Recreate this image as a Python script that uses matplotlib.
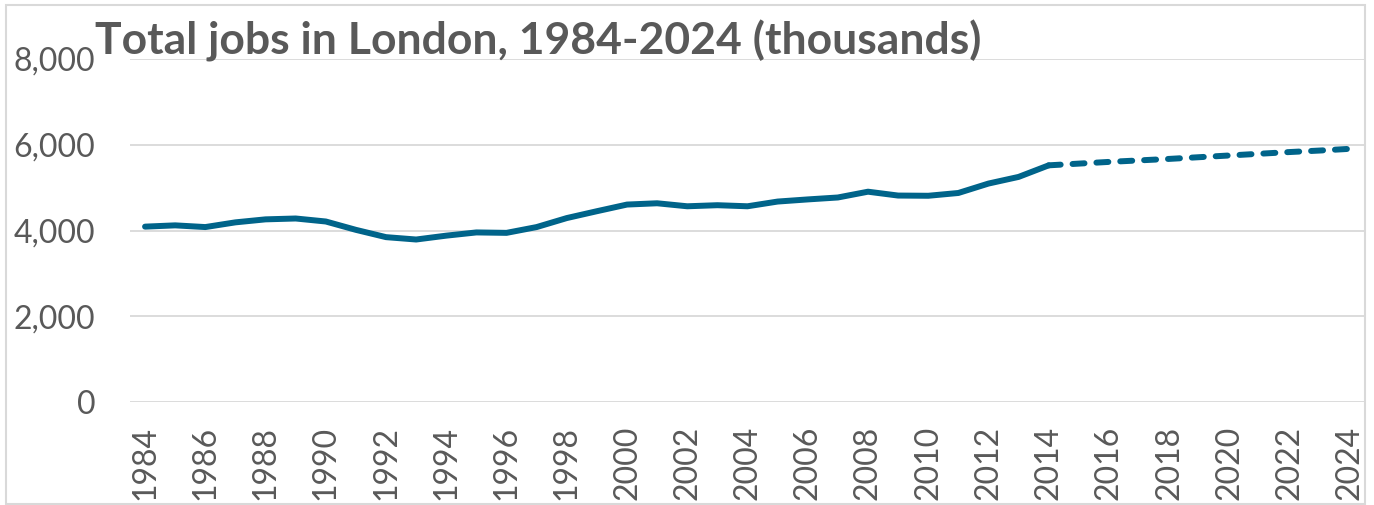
import matplotlib.pyplot as plt
from matplotlib.patches import Rectangle
from matplotlib.ticker import FuncFormatter

# actual jobs (thousands), 1984-2014
years = list(range(1984, 2015))
jobs = [4090, 4120, 4080, 4190, 4260, 4280, 4210, 4015, 3845, 3790,
        3880, 3955, 3945, 4080, 4290, 4450, 4605, 4635, 4565, 4590,
        4565, 4675, 4725, 4770, 4905, 4815, 4810, 4875, 5095, 5250,
        5520]

# projection, 2014-2024
proj_years = list(range(2014, 2025))
proj_jobs = [5520, 5560, 5600, 5635, 5670, 5710, 5750, 5790, 5830, 5865, 5905]

tick_years = list(range(1984, 2025, 2))
y_ticks = [0, 2000, 4000, 6000, 8000]

line_col = '#00648a'
text_col = '#595959'
grid_col = '#d9d9d9'


def main():
    plt.rcParams['font.family'] = ['Lato', 'DejaVu Sans']
    fig = plt.figure(figsize=(13.74, 5.05), dpi=100)
    ax = fig.add_axes([130 / 1374, 103 / 505, 1235 / 1374, 343 / 505])

    ax.plot(years, jobs, color=line_col, lw=4.3, solid_capstyle='round',
            solid_joinstyle='round')
    ax.plot(proj_years, proj_jobs, color=line_col, lw=4.3,
            linestyle=(0, (2.0, 2.0)), dash_capstyle='round')

    ax.set_xlim(1983.5, 2024.5)
    ax.set_ylim(0, 8000)
    ax.set_xticks(tick_years)
    ax.set_xticklabels([str(y) for y in tick_years], rotation=90)
    ax.set_yticks(y_ticks)
    ax.yaxis.set_major_formatter(FuncFormatter(lambda v, p: f'{int(v):,}'))
    ax.tick_params(axis='both', length=0, labelsize=23, labelcolor=text_col)
    ax.tick_params(axis='y', pad=25)
    ax.tick_params(axis='x', pad=17)
    ax.grid(axis='y', color=grid_col, lw=1.3)
    ax.set_axisbelow(True)
    for s in ax.spines.values():
        s.set_visible(False)

    fig.text(95 / 1374, 1 - 55 / 505, 'Total jobs in London, 1984-2024 (thousands)',
             fontsize=32, fontweight='bold', color=text_col, ha='left',
             va='baseline')

    fig.patches.append(Rectangle((6 / 1374, 1 / 505), 1359 / 1374, 499 / 505,
                                 transform=fig.transFigure, fill=False,
                                 edgecolor=grid_col, lw=1.5))

    fig.savefig('out.png', dpi=100)


if __name__ == '__main__':
    main()
